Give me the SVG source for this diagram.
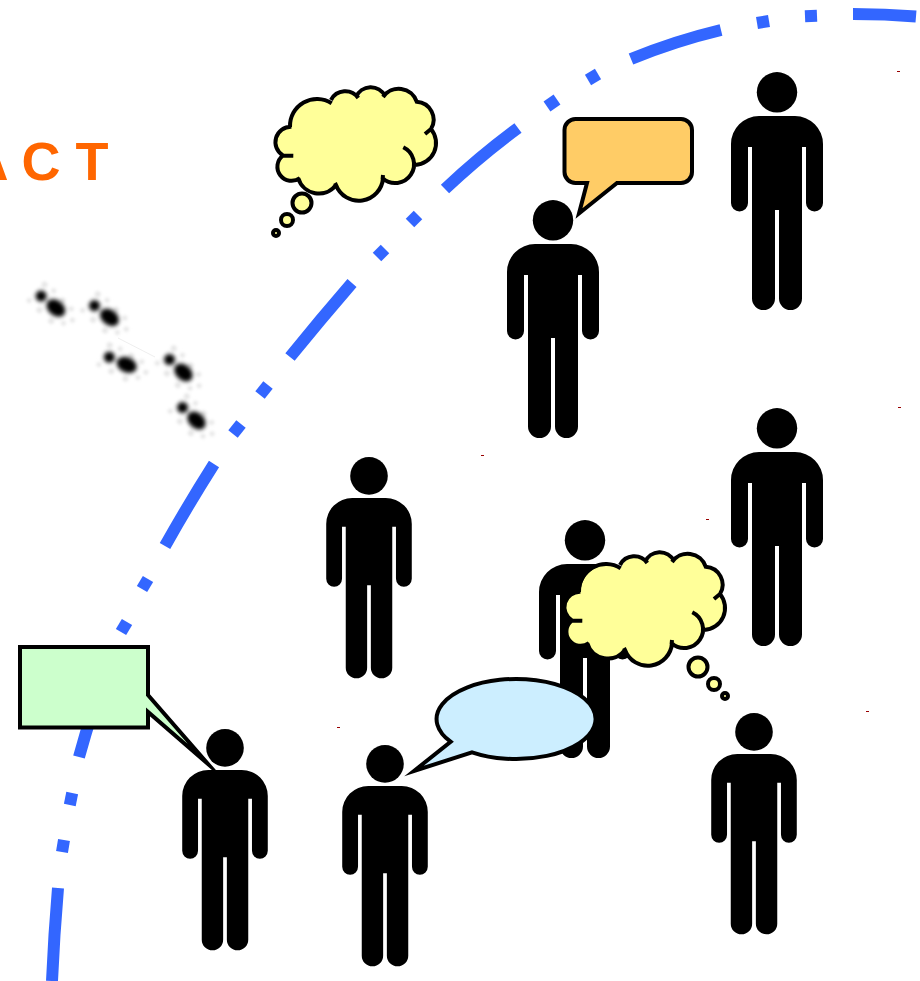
<svg xmlns="http://www.w3.org/2000/svg" xmlns:xlink="http://www.w3.org/1999/xlink" width="920" height="981" viewBox="0 0 920 981">
<style>
.arc{fill:none;stroke:#3366ff;stroke-width:12;stroke-linecap:butt}
.ol{stroke:#000;stroke-width:4;stroke-miterlimit:30;stroke-linejoin:miter}
.cfill{fill:#ffff99;stroke:none}
.cline{fill:none;stroke:#000;stroke-width:4}
.bub{fill:#ffff99;stroke:#000;stroke-width:4}
.tick{fill:#990000}
.title{font-family:"Liberation Sans",Arial,sans-serif;font-weight:bold;font-size:54px;fill:#ff6600}
</style>
<defs>
<g id="person">
<circle cx="0" cy="20.3" r="20.2" fill="#000"/>
<path fill="#000" d="M-18,44H18A28,28 0 0 1 46,72V131A8.5,8.5 0 0 1 29,131V75H25V226.5A11.5,11.5 0 0 1 2,226.5V138H-2V226.5A11.5,11.5 0 0 1 -25,226.5V75H-29V131A8.5,8.5 0 0 1 -46,131V72A28,28 0 0 1 -18,44Z"/>
</g>
<g id="cloud">
<path class="cfill" d="M291.7,126.7A27,27 0 0 1 331.7,103.3A16,16 0 0 1 358.3,96.7A16,16 0 0 1 385,95A19,19 0 0 1 416.7,101.7A18,18 0 0 1 431,129A22,22 0 0 1 415,165A19,19 0 0 1 382.7,178.3A24.300,24.300 0 0 1 336,185A21.500,21.500 0 0 1 298.3,178.3A13,13 0 0 1 283.3,155A15.5,15.5 0 0 1 291.7,126.7Z"/>
<path class="cline" d="M290,127A27,27 0 0 1 331.7,103.3M331,100A16,16 0 0 1 358.3,98M356,97A16,16 0 0 1 385,96M383,97A19,19 0 0 1 416.7,101.7A18,18 0 0 1 431,129L425,134M431,129A22,22 0 0 1 415,165M403.3,147.3A18.800,18.800 0 1 1 382.7,178.3L383,175M383,178A24.300,24.300 0 0 1 336,185L335,183M336,185A21.500,21.500 0 0 1 298.3,178.3M300,178A13.5,13.5 0 0 1 283,155.5L293.3,155.7M283,155.5A15.5,15.5 0 0 1 291.5,126.7"/>
</g>
<filter id="soft" x="-50%" y="-50%" width="200%" height="200%"><feGaussianBlur stdDeviation="1.9"/></filter>
<filter id="softer" x="-50%" y="-50%" width="200%" height="200%"><feGaussianBlur stdDeviation="1.6"/></filter>
<g id="print">
<g fill="#e6e6e6" filter="url(#softer)">
<circle cx="-14" cy="-11" r="3"/><circle cx="-3" cy="-12" r="2.5"/><circle cx="10" cy="-10" r="3"/><circle cx="22" cy="-9" r="2.5"/>
<circle cx="-16" cy="11" r="2.5"/><circle cx="-2" cy="12" r="3"/><circle cx="14" cy="13" r="3"/><circle cx="25" cy="7" r="2.5"/><circle cx="30" cy="-1" r="2.5"/>
</g>
<g fill="#000" filter="url(#soft)">
<circle cx="-9.5" cy="0" r="5.5"/>
<ellipse cx="9.5" cy="0" rx="10.5" ry="7.5"/>
</g>
</g>
</defs>
<rect width="920" height="981" fill="#fff"/>

<text class="title" x="-30.500" y="180" xml:space="preserve">A C T</text>

<g id="footprints">
<use href="#print" transform="translate(48.5,302) rotate(39)"/>
<use href="#print" transform="translate(102,311.5) rotate(38)"/>
<use href="#print" transform="translate(118,361) rotate(24)"/>
<use href="#print" transform="translate(176.5,366) rotate(43)"/>
<use href="#print" transform="translate(189.5,414) rotate(43)"/>
<line x1="118" y1="338" x2="155" y2="357" stroke="#e2e2e2" stroke-width="0.6"/>
</g>

<g id="boundary" class="arc">
<path d="M853,14Q885,14 916,16.5"/>
<path d="M805,16.3L817,15.8"/>
<path d="M757,23L769,21"/>
<path d="M631,59Q675,41 721,30"/>
<path d="M588,80L598,74"/>
<path d="M547,106.5L557,99.5"/>
<path d="M518,128Q480,156 445,189"/>
<path d="M410,223L418,215"/>
<path d="M377,257L385,249"/>
<path d="M352,283Q320,320 290,357"/>
<path d="M260,395L268,385"/>
<path d="M233,434L241,424"/>
<path d="M214,464Q188,505 165,546"/>
<path d="M142,589L148,579"/>
<path d="M121,632L127,622"/>
<path d="M108,665Q92,710 79,757"/>
<path d="M69.800,805L72.200,793"/>
<path d="M62,852L64,840"/>
<path d="M58,888Q54,935 52,981"/>
</g>

<g id="ticks">
<rect class="tick" x="897" y="71" width="3" height="1"/>
<rect class="tick" x="898" y="407" width="3" height="1"/>
<rect class="tick" x="481" y="455" width="3" height="1"/>
<rect class="tick" x="706" y="519" width="3" height="1"/>
<rect class="tick" x="337" y="727" width="3" height="1"/>
<rect class="tick" x="866" y="711" width="3" height="1"/>
</g>

<g id="person-a"><use href="#person" transform="translate(777,72)"/></g>
<g id="person-b"><use href="#person" transform="translate(553,200)"/></g>
<g id="person-c"><use href="#person" transform="translate(777,408)"/></g>
<g id="person-d"><use href="#person" transform="translate(585,520)"/></g>
<g id="person-e"><use href="#person" transform="translate(369,457) scale(.93)"/></g>
<g id="person-f"><use href="#person" transform="translate(225,729) scale(.93)"/></g>
<g id="person-g"><use href="#person" transform="translate(385,745) scale(.93)"/></g>
<g id="person-h"><use href="#person" transform="translate(754,713) scale(.93)"/></g>

<g id="thought-1">
<use href="#cloud"/>
<circle class="bub" cx="302" cy="203" r="9.500"/>
<circle class="bub" cx="287" cy="220" r="6"/>
<circle class="bub" cx="276" cy="233" r="3"/>
</g>
<g id="thought-2">
<use href="#cloud" transform="translate(289,465)"/>
<circle class="bub" cx="698" cy="667" r="9.500"/>
<circle class="bub" cx="714" cy="684" r="6"/>
<circle class="bub" cx="725" cy="696" r="3"/>
</g>
<g id="callout-orange">
<path class="ol" fill="#ffcc66" d="M575.500,119H681A11,11 0 0 1 692,130V172A11,11 0 0 1 681,183H617L579,213.500L587,183H575.500A11,11 0 0 1 564.500,172V130A11,11 0 0 1 575.500,119Z"/>
</g>
<g id="callout-green">
<path class="ol" fill="#ccffcc" d="M20,647H148V695L208,764L148,712V727.500H20Z"/>
</g>
<g id="callout-blue">
<path class="ol" fill="#cceeff" d="M472,752.300A79.500,40 0 1 0 450.600,741.700L414,771Z"/>
</g>
</svg>
